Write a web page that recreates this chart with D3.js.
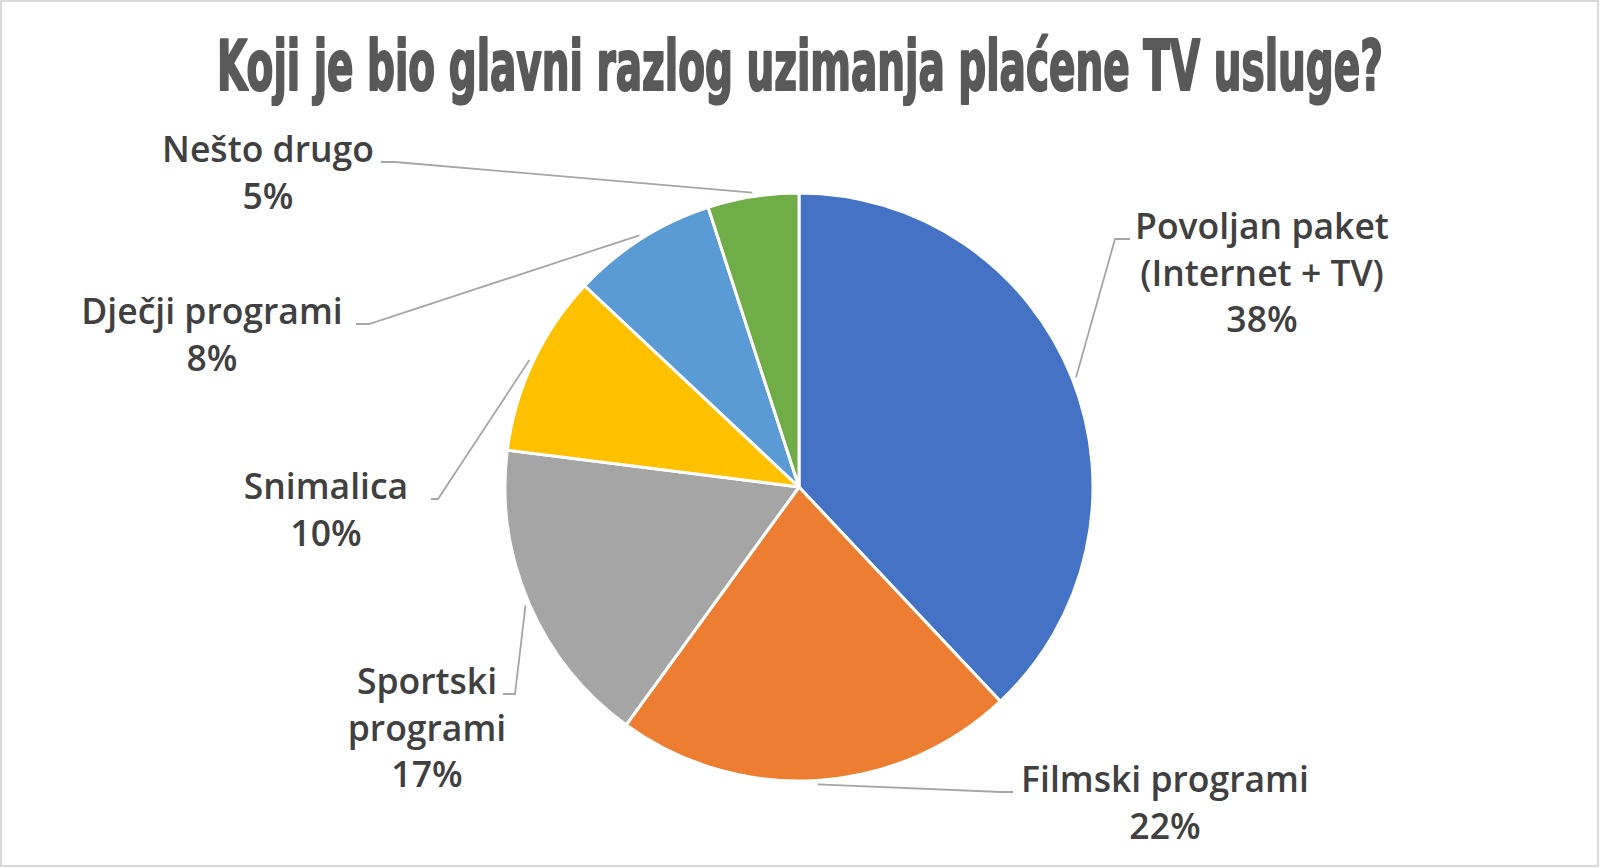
<!DOCTYPE html>
<html>
<head>
<meta charset="utf-8">
<script src="https://cdn.jsdelivr.net/npm/d3@7"></script>
<style>
  html, body { margin: 0; padding: 0; background: #fff; }
  svg { display: block; }
</style>
</head>
<body>
<svg id="chart" width="1600" height="868"></svg>
<script>
// ---- data ----
const titleText = "Koji je bio glavni razlog uzimanja plaćene TV usluge?";
const categories = ["Povoljan paket (Internet + TV)", "Filmski programi", "Sportski programi", "Snimalica", "Dječji programi", "Nešto drugo"];
const labelLines = [["Povoljan paket", "(Internet + TV)"], ["Filmski programi"], ["Sportski", "programi"], ["Snimalica"], ["Dječji programi"], ["Nešto drugo"]];
const values = [38, 22, 17, 10, 8, 5];
const colors = ["#4472C4", "#ED7D31", "#A5A5A5", "#FFC000", "#5B9BD5", "#70AD47"];

// ---- layout (label placement, px) ----
const cx = 799, cy = 487, R = 294;
const labelPos = [
  {x: 1262, y: 226, elbowX: 1115, endX: 1130},
  {x: 1165, y: 779, elbowX: 1001, endX: 1013},
  {x: 427, y: 681, elbowX: 515, endX: 503},
  {x: 326, y: 486, elbowX: 438, endX: 431},
  {x: 212, y: 311, elbowX: 369, endX: 356},
  {x: 268, y: 149, elbowX: 395, endX: 381}
];
const lineGap = 46.5;

const svg = d3.select("#chart");
svg.append("rect").attr("x", 1).attr("y", 1).attr("width", 1597).attr("height", 865)
  .attr("fill", "#fff").attr("stroke", "#d9d9d9").attr("stroke-width", 2);

// title: natural width measured, then scaled horizontally to the target width
const titleG = svg.append("g");
const title = titleG.append("text")
  .attr("x", 0).attr("y", 0)
  .attr("text-anchor", "middle")
  .attr("font-family", "'Liberation Sans Narrow', 'DejaVu Sans Condensed', sans-serif")
  .attr("font-weight", "bold")
  .attr("font-size", 70)
  .attr("fill", "#595959")
  .attr("stroke", "#595959")
  .attr("stroke-width", 2.2)
  .attr("stroke-linejoin", "round")
  .text(titleText);
const tw = title.node().getComputedTextLength();
const sx = 1166 / tw;
titleG.attr("transform", `translate(800,90) scale(${sx},1)`);

const pie = d3.pie().value(d => d).sort(null);
const arcs = pie(values);
const arc = d3.arc().innerRadius(0).outerRadius(R);
const leaderArc = d3.arc().innerRadius(R + 4).outerRadius(R + 4);

const g = svg.append("g").attr("transform", `translate(${cx},${cy})`);
g.selectAll("path.slice").data(arcs).join("path")
  .attr("class", "slice")
  .attr("d", arc)
  .attr("fill", (d, i) => colors[i])
  .attr("stroke", "#fff")
  .attr("stroke-width", 3)
  .attr("stroke-linejoin", "round");

// leader lines
arcs.forEach((a, i) => {
  const [lx, ly0] = leaderArc.centroid(a);
  const p = labelPos[i];
  const ly = p.y + 13 - cy;
  const pts = [[lx, ly0], [p.elbowX - cx, ly], [p.endX - cx, ly]];
  g.append("path")
    .attr("d", d3.line()(pts))
    .attr("fill", "none")
    .attr("stroke", "#a6a6a6")
    .attr("stroke-width", 1.8);
});

// labels
arcs.forEach((a, i) => {
  const p = labelPos[i];
  const lines = labelLines[i].concat([values[i] + "%"]);
  const t = svg.append("text")
    .attr("text-anchor", "middle")
    .attr("font-family", "'Open Sans', sans-serif")
    .attr("font-weight", 600)
    .attr("font-size", 35.5)
    .attr("fill", "#404040");
  lines.forEach((ln, k) => {
    t.append("tspan").attr("x", p.x).attr("y", p.y + 13 + k * lineGap).text(ln);
  });
});
</script>
</body>
</html>
